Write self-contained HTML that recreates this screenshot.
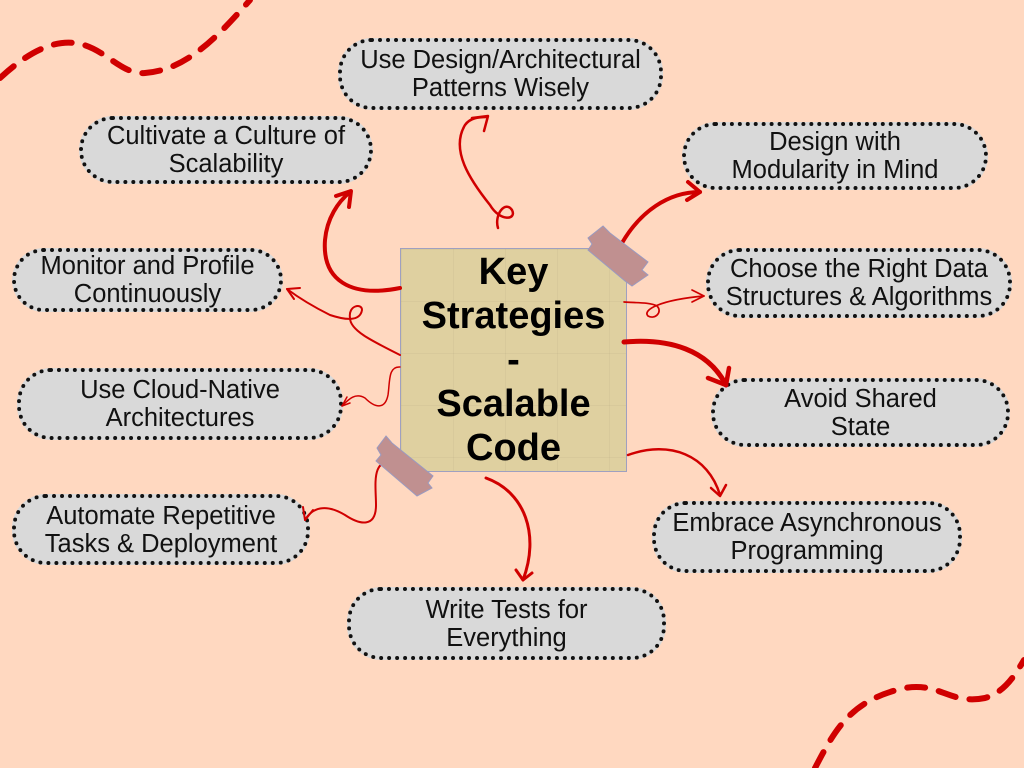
<!DOCTYPE html>
<html><head><meta charset="utf-8"><style>
body{margin:0;width:1024px;height:768px;background:#FFD8C0;position:relative;overflow:hidden;font-family:"Liberation Sans",sans-serif;}
.n{position:absolute;box-sizing:border-box;background:#D9D9D9;border:4px dotted #111;border-radius:34px;display:flex;align-items:center;justify-content:center;text-align:center;font-size:25.5px;line-height:28px;color:#111;white-space:nowrap;}
.note{position:absolute;left:400px;top:248px;width:227px;height:224px;background:#DFD0A0;border:1px solid #9fa0c0;box-sizing:border-box;display:flex;align-items:center;justify-content:center;text-align:center;font-weight:bold;font-size:38px;line-height:44px;color:#000;
background-image:linear-gradient(rgba(0,0,0,0.03) 1px,transparent 1px),linear-gradient(90deg,rgba(0,0,0,0.03) 1px,transparent 1px);background-size:52px 52px;}
svg{position:absolute;left:0;top:0;}
</style></head><body>
<svg width="1024" height="768" fill="none" stroke="#D00000" stroke-linecap="round">
<path d="M0,78 C25,55 50,40 75,43 C105,47 120,75 145,73 C185,70 215,40 250,0" stroke-width="6" stroke-dasharray="18,14"/>
<path d="M815,768 C835,730 850,700 905,688 C940,682 950,705 985,698 C1005,692 1015,675 1024,660" stroke-width="6" stroke-dasharray="18,14"/>
</svg>
<div class="n" style="left:338px;top:38px;width:325px;height:72px">Use Design/Architectural<br>Patterns Wisely</div>
<div class="n" style="left:79px;top:116px;width:294px;height:68px">Cultivate a Culture of<br>Scalability</div>
<div class="n" style="left:682px;top:122px;width:306px;height:68px">Design with<br>Modularity in Mind</div>
<div class="n" style="left:12px;top:248px;width:271px;height:64px">Monitor and Profile<br>Continuously</div>
<div class="n" style="left:706px;top:248px;width:306px;height:70px">Choose the Right Data<br>Structures &amp; Algorithms</div>
<div class="n" style="left:17px;top:368px;width:326px;height:72px">Use Cloud-Native<br>Architectures</div>
<div class="n" style="left:711px;top:378px;width:299px;height:69px">Avoid Shared<br>State</div>
<div class="n" style="left:12px;top:494px;width:298px;height:71px">Automate Repetitive<br>Tasks &amp; Deployment</div>
<div class="n" style="left:652px;top:501px;width:310px;height:72px">Embrace Asynchronous<br>Programming</div>
<div class="n" style="left:347px;top:587px;width:319px;height:73px">Write Tests for<br>Everything</div>
<div class="note">Key<br>Strategies<br>-<br>Scalable<br>Code</div>
<svg width="1024" height="768" fill="none" stroke="#D00000" stroke-linecap="round" stroke-linejoin="round">
<path d="M400,288 C350,298 322,280 325,240 C327,218 338,202 350,192" stroke-width="4"/>
<path d="M336,196 L351,191 L349,207" stroke-width="4"/>
<path d="M498,228 C494,215 505,200 512,210 C517,220 500,222 490,205 C470,180 450,150 465,125 C470,118 478,117 487,117" stroke-width="2.5"/>
<path d="M472,118 L488,116 L484,131" stroke-width="2.5"/>
<path d="M622,243 C640,212 668,192 700,192" stroke-width="4"/>
<path d="M688,182 L700,192 L687,200" stroke-width="4"/>
<path d="M624,302 C635,303 650,302 657,306 C663,312 655,320 648,316 C642,310 660,300 704,296" stroke-width="1.7"/>
<path d="M692,290 L704,296 L692,302" stroke-width="1.7"/>
<path d="M624,342 C670,338 708,350 726,385" stroke-width="5"/>
<path d="M708,378 L726,385 L729,368" stroke-width="4.5"/>
<path d="M628,455 C670,440 708,455 720,495" stroke-width="2.5"/>
<path d="M711,488 L720,496 L726,485" stroke-width="2.5"/>
<path d="M486,478 C525,492 540,535 523,580" stroke-width="3"/>
<path d="M516,570 L523,580 L532,573" stroke-width="3"/>
<path d="M400,355 C370,340 350,330 350,318 C348,305 362,303 362,310 C360,322 345,320 330,315 C310,305 295,295 287,289" stroke-width="2"/>
<path d="M287,289 L300,288 M287,289 L294,299" stroke-width="2"/>
<path d="M400,367 C388,366 390,382 388,395 C385,410 375,408 365,398 C355,392 348,400 342,406" stroke-width="1.5"/>
<path d="M342,406 L347,397 M342,406 L350,403" stroke-width="1.5"/>
<path d="M398,463 C370,455 376,485 376,505 C376,528 360,525 345,515 C325,503 312,508 305,520" stroke-width="2"/>
<path d="M305,520 L303,507 M305,520 L313,510" stroke-width="2"/>
</svg>
<svg width="1024" height="768">
<polygon points="603,226 610,233 648,262 642,270 648,275 632,286 625,281 588,250 592,244 588,238" fill="#C09090" stroke="#9a9ac0" stroke-width="1"/>
<polygon points="386,436 392,443 433,476 428,483 432,488 417,496 410,490 376,461 381,455 377,448" fill="#C09090" stroke="#9a9ac0" stroke-width="1"/>
</svg>
</body></html>
